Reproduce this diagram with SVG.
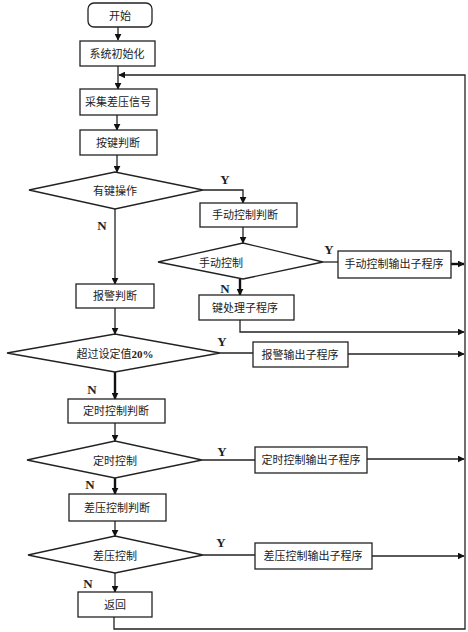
<svg xmlns="http://www.w3.org/2000/svg" width="468" height="632" viewBox="0 0 468 632">
<style>
.n{fill:#fff;stroke:#222;stroke-width:1.3}
.t{font-family:"Liberation Serif","Noto Sans CJK SC",serif;font-size:11px;fill:#222;text-anchor:middle;dominant-baseline:central}
.c{fill:none;stroke:#222;stroke-width:1.3}
.k{fill:none;stroke:#111;stroke-width:2.4}
.l{font-family:"Liberation Serif",serif;font-size:13px;font-weight:bold;fill:#222;text-anchor:middle}
</style>
<defs>
<marker id="a" viewBox="0 0 10 10" refX="9" refY="5" markerWidth="7" markerHeight="7" markerUnits="userSpaceOnUse" orient="auto"><path d="M0,0L10,5L0,10z" fill="#111"/></marker>
<marker id="b" viewBox="0 0 10 10" refX="9" refY="5" markerWidth="9" markerHeight="9" markerUnits="userSpaceOnUse" orient="auto"><path d="M0,0L10,5L0,10z" fill="#111"/></marker>
</defs>
<g id="connectors">
<path class="c" d="M118,27V40" marker-end="url(#a)"/>
<path class="c" d="M118,66V89" marker-end="url(#a)"/>
<path class="c" d="M117,115V130" marker-end="url(#a)"/>
<path class="c" d="M117,155V172" marker-end="url(#a)"/>
<path class="c" d="M203,190H243V203" marker-end="url(#a)"/>
<path class="c" d="M243,227V243" marker-end="url(#a)"/>
<path class="c" d="M323,262H338"/>
<path class="k" d="M451,264H464" marker-end="url(#a)"/>
<path class="k" d="M240,279V295" marker-end="url(#a)"/>
<path class="c" d="M240,320V332H464" marker-end="url(#a)"/>
<path class="c" d="M115,209V284" marker-end="url(#a)"/>
<path class="c" d="M115,308V334" marker-end="url(#a)"/>
<path class="c" d="M220,353H253"/>
<path class="c" d="M348,354H464" marker-end="url(#a)"/>
<path class="k" d="M115,372V399" marker-end="url(#a)"/>
<path class="c" d="M115,423V441" marker-end="url(#a)"/>
<path class="c" d="M202,460H255"/>
<path class="c" d="M367,459H464" marker-end="url(#a)"/>
<path class="k" d="M115,478V494" marker-end="url(#a)"/>
<path class="c" d="M115,521V536" marker-end="url(#a)"/>
<path class="c" d="M203,555H255"/>
<path class="c" d="M372,556H464" marker-end="url(#a)"/>
<path class="c" d="M115,573V592" marker-end="url(#a)"/>
<path class="c" d="M114,617V629H465V75H119" marker-end="url(#a)"/>
</g>
<g id="start"><rect class="n" x="88" y="3" width="64" height="24" rx="6"/><text class="t" x="120" y="16">开始</text></g>
<g id="init"><rect class="n" x="80" y="41" width="75" height="25"/><text class="t" x="117" y="54">系统初始化</text></g>
<g id="sample"><rect class="n" x="80" y="89" width="77" height="26"/><text class="t" x="118" y="102">采集差压信号</text></g>
<g id="key"><rect class="n" x="80" y="130" width="77" height="25"/><text class="t" x="118" y="143">按键判断</text></g>
<g id="keyop"><path class="n" d="M29,190L115,172L203,190L115,209z"/><text class="t" x="115" y="191">有键操作</text></g>
<text class="l" x="225" y="184">Y</text>
<text class="l" x="102" y="230">N</text>
<g id="manualjudge"><rect class="n" x="200" y="203" width="97" height="24"/><text class="t" x="245" y="215">手动控制判断</text></g>
<g id="manual"><path class="n" d="M158,262L243,243L323,262L243,279z"/><text class="t" x="221" y="263">手动控制</text></g>
<text class="l" x="329" y="254">Y</text>
<g id="manualout"><rect class="n" x="338" y="251" width="113" height="27"/><text class="t" x="394" y="264">手动控制输出子程序</text></g>
<text class="l" x="225" y="293">N</text>
<g id="keyproc"><rect class="n" x="199" y="295" width="95" height="25"/><text class="t" x="245" y="308">键处理子程序</text></g>
<g id="alarm"><rect class="n" x="76" y="284" width="78" height="24"/><text class="t" x="115" y="296">报警判断</text></g>
<g id="over"><path class="n" d="M7,353L115,334L220,353L115,372z"/><text class="t" x="115" y="354">超过设定值<tspan font-weight="bold">20%</tspan></text></g>
<text class="l" x="222" y="346">Y</text>
<g id="alarmout"><rect class="n" x="253" y="342" width="95" height="25"/><text class="t" x="300" y="355">报警输出子程序</text></g>
<text class="l" x="92" y="394">N</text>
<g id="timerjudge"><rect class="n" x="68" y="399" width="97" height="24"/><text class="t" x="116" y="411">定时控制判断</text></g>
<g id="timer"><path class="n" d="M27,460L115,441L202,460L115,478z"/><text class="t" x="115" y="461">定时控制</text></g>
<text class="l" x="222" y="456">Y</text>
<g id="timerout"><rect class="n" x="255" y="447" width="112" height="26"/><text class="t" x="311" y="460">定时控制输出子程序</text></g>
<text class="l" x="90" y="489">N</text>
<g id="dpjudge"><rect class="n" x="69" y="494" width="97" height="27"/><text class="t" x="117" y="508">差压控制判断</text></g>
<g id="dp"><path class="n" d="M28,555L115,536L203,555L115,573z"/><text class="t" x="115" y="556">差压控制</text></g>
<text class="l" x="221" y="547">Y</text>
<g id="dpout"><rect class="n" x="255" y="543" width="117" height="26"/><text class="t" x="313" y="556">差压控制输出子程序</text></g>
<text class="l" x="88" y="588">N</text>
<g id="ret"><rect class="n" x="78" y="592" width="74" height="25"/><text class="t" x="115" y="605">返回</text></g>
</svg>
